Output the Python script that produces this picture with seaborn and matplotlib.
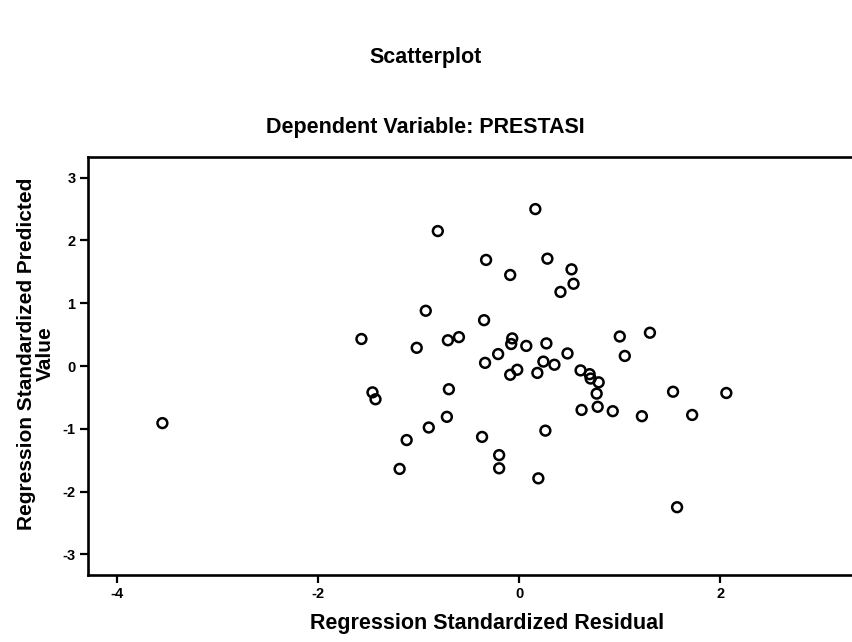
import pandas as pd
import seaborn as sns
import matplotlib.pyplot as plt

# standardized residual (x) / standardized predicted value (y)
residual = [-3.55, -1.57, -1.46, -1.43, -0.81, -0.33, -0.09, 0.16, -0.93, -0.35,
            -1.02, -0.71, -0.60, -0.07, -0.08, 0.07, -0.21, 0.28, 0.52, 0.54,
            0.41, 1.00, 1.30, 0.27, 0.48, 1.05, -0.34, -0.09, -0.02, 0.18,
            -0.70, -0.72, -0.90, -1.12, -1.19, -0.37, -0.20, -0.20, 0.19, 0.24,
            0.35, 0.61, 0.70, 0.71, 0.79, 0.77, 0.62, 0.78, 0.93, 1.22,
            1.53, 1.72, 2.06, 0.26, 1.57]
predicted = [-0.91, 0.43, -0.42, -0.53, 2.15, 1.69, 1.45, 2.50, 0.88, 0.73,
             0.29, 0.41, 0.46, 0.44, 0.35, 0.32, 0.19, 1.71, 1.54, 1.31,
             1.18, 0.47, 0.53, 0.36, 0.20, 0.16, 0.05, -0.14, -0.06, -0.11,
             -0.37, -0.81, -0.98, -1.18, -1.64, -1.13, -1.42, -1.63, -1.79, 0.07,
             0.02, -0.07, -0.13, -0.20, -0.26, -0.44, -0.70, -0.65, -0.72, -0.80,
             -0.41, -0.78, -0.43, -1.03, -2.25]
x_ticks = [-4, -2, 0, 2]
y_ticks = [-3, -2, -1, 0, 1, 2, 3]

RESID = 'Regression Standardized Residual'
PRED = 'Regression Standardized Predicted\nValue'

df = pd.DataFrame({RESID: residual, PRED: predicted})

sns.set_style('ticks')
plt.rcParams['font.family'] = ['Liberation Sans', 'DejaVu Sans']
plt.rcParams['font.weight'] = 'bold'
plt.rcParams['axes.unicode_minus'] = False
for key in ['text.color', 'axes.labelcolor', 'xtick.color', 'ytick.color', 'axes.edgecolor']:
    plt.rcParams[key] = 'black'

fig = plt.figure(figsize=(8.53, 6.42), dpi=100)
ax = fig.add_axes([88 / 853, 1 - 575 / 642, (853 - 88) / 853, (575 - 157) / 642])

sns.scatterplot(data=df, x=RESID, y=PRED, ax=ax, s=50, marker='o',
                facecolor='none', edgecolor='black', linewidth=1.8)

ax.set_xlim(-4.29, 3.32)
ax.set_ylim(-3.33, 3.33)
ax.set_xticks(x_ticks)
ax.set_yticks(y_ticks)
ax.tick_params(direction='out', length=6, width=1.6, labelsize=10.5, pad=3)
for lab in ax.get_xticklabels() + ax.get_yticklabels():
    lab.set_fontweight('bold')
for side in ['left', 'bottom', 'top']:
    ax.spines[side].set_linewidth(1.9)
ax.spines['right'].set_visible(False)
ax.set_xlabel('')
ax.set_ylabel('')

fig.text(426 / 853, 1 - 57 / 642, 'Scatterplot', ha='center', va='center',
         fontsize=15.5, fontweight='bold')
fig.text(425 / 853, 1 - 127 / 642, 'Dependent Variable: PRESTASI', ha='center',
         va='center', fontsize=15.5, fontweight='bold')
fig.text(487 / 853, 1 - 623 / 642, RESID, ha='center', va='center',
         fontsize=15.5, fontweight='bold')
fig.text(36 / 853, 1 - 354 / 642, PRED, ha='center', va='center', rotation=90,
         fontsize=15, fontweight='bold', linespacing=0.95)

fig.savefig('out.png', dpi=100, facecolor='white')
